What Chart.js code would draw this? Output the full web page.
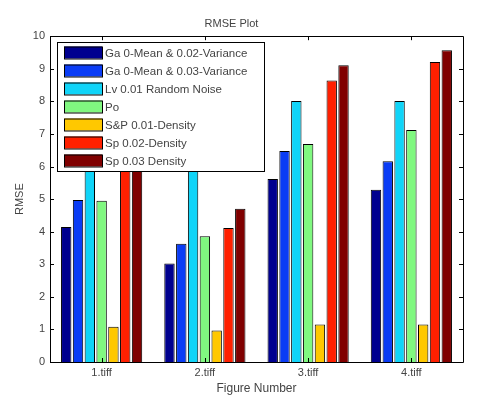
<!DOCTYPE html>
<html>
<head>
<meta charset="utf-8">
<script src="https://cdn.jsdelivr.net/npm/chart.js@4.4.1/dist/chart.umd.min.js"></script>
<style>
  html, body { margin: 0; padding: 0; background: #fff; }
  #wrap { width: 482px; height: 396px; }
</style>
</head>
<body>
<div id="wrap"><canvas id="rmseChart" width="482" height="396"></canvas></div>
<script>
const figures = ['1.tiff', '2.tiff', '3.tiff', '4.tiff']
const seriesNames = [
  'Ga 0-Mean & 0.02-Variance',
  'Ga 0-Mean & 0.03-Variance',
  'Lv 0.01 Random Noise',
  'Po',
  'S&P 0.01-Density',
  'Sp 0.02-Density',
  'Sp 0.03 Density'
]
const ga002 = [4.14, 3.02, 5.62, 5.29]
const ga003 = [4.97, 3.63, 6.48, 6.16]
const lv001 = [8.0, 8.0, 8.01, 8.01]
const po = [4.95, 3.86, 6.69, 7.12]
const sp001 = [1.08, 0.97, 1.15, 1.15]
const sp002 = [7.0, 4.11, 8.64, 9.21]
const sp003 = [7.3, 4.70, 9.11, 9.57]
const yTicks = [0, 1, 2, 3, 4, 5, 6, 7, 8, 9, 10]

const colors = ['#00008f', '#0a3cf5', '#10d4f8', '#80f880', '#ffc800', '#ff2000', '#800000']
const allValues = [ga002, ga003, lv001, po, sp001, sp002, sp003]

const textColor = '#444'
const fontFam = '"Liberation Sans", Arial, sans-serif'

// matlab style box, inward ticks and legend inside the axes
const matlabBox = {
  id: 'matlabBox',
  afterDatasetsDraw(chart) {
    const ctx = chart.ctx
    const a = chart.chartArea
    const xs = chart.scales.x, ys = chart.scales.y
    ctx.save()
    ctx.strokeStyle = '#000'
    ctx.lineWidth = 1
    ctx.beginPath()
    ctx.rect(Math.round(a.left) + 0.5, Math.round(a.top) + 0.5, Math.round(a.right - a.left), Math.round(a.bottom - a.top))
    ctx.stroke()
    // y ticks on both sides
    ctx.beginPath()
    yTicks.forEach(v => {
      const y = Math.round(ys.getPixelForValue(v)) + 0.5
      ctx.moveTo(a.left, y); ctx.lineTo(a.left + 4, y)
      ctx.moveTo(a.right, y); ctx.lineTo(a.right - 4, y)
    })
    figures.forEach((f, i) => {
      const x = Math.round(xs.getPixelForValue(i)) + 0.5
      ctx.moveTo(x, a.top); ctx.lineTo(x, a.top + 4)
      ctx.moveTo(x, a.bottom); ctx.lineTo(x, a.bottom - 4)
    })
    ctx.stroke()

    // legend
    const lx = 57, ly = 42, lw = 207, lh = 129
    ctx.fillStyle = '#fff'
    ctx.fillRect(lx, ly, lw, lh)
    ctx.strokeRect(lx + 0.5, ly + 0.5, lw, lh)
    ctx.font = '11.5px ' + fontFam
    ctx.textBaseline = 'middle'
    chart.data.datasets.forEach((ds, i) => {
      const cy = 52.5 + i * 18
      ctx.fillStyle = ds.backgroundColor
      ctx.fillRect(64, cy - 6, 38, 12)
      ctx.strokeStyle = '#000'
      ctx.strokeRect(64.5, cy - 5.5, 38, 12)
      ctx.fillStyle = textColor
      ctx.fillText(ds.label, 105, cy + 1)
    })
    ctx.restore()
  }
}

const ctx = document.getElementById('rmseChart').getContext('2d')
const rmseChart = new Chart(ctx, {
  type: 'bar',
  data: {
    labels: figures,
    datasets: seriesNames.map((name, i) => ({
      label: name,
      data: allValues[i],
      backgroundColor: colors[i],
      borderColor: '#000',
      borderWidth: 1,
      borderSkipped: 'bottom',
      categoryPercentage: 0.8,
      barPercentage: 0.88
    }))
  },
  options: {
    responsive: false,
    animation: false,
    layout: { padding: { top: 0, right: 19, left: 0, bottom: 0 } },
    plugins: {
      legend: { display: false },
      tooltip: { enabled: false },
      title: {
        display: true,
        text: 'RMSE Plot',
        color: textColor,
        font: { family: fontFam, size: 11, weight: 'normal' },
        padding: { top: 17, bottom: 6 }
      }
    },
    scales: {
      x: {
        grid: { display: false, tickLength: 0 },
        border: { display: false },
        ticks: { color: textColor, font: { family: fontFam, size: 11 }, padding: 4 },
        title: {
          display: true,
          text: 'Figure Number',
          color: textColor,
          font: { family: fontFam, size: 12 },
          padding: { top: 0, bottom: 0 }
        },
        afterFit(scale) { scale.height = 34 }
      },
      y: {
        min: 0,
        max: 10,
        grid: { display: false, tickLength: 0 },
        border: { display: false },
        ticks: {
          stepSize: 1,
          color: textColor,
          font: { family: fontFam, size: 11 },
          padding: 5
        },
        title: {
          display: true,
          text: 'RMSE',
          color: textColor,
          font: { family: fontFam, size: 11 },
          padding: { top: 13, bottom: 0 }
        },
        afterFit(scale) { scale.width = 50 }
      }
    }
  },
  plugins: [matlabBox]
})
</script>
</body>
</html>
